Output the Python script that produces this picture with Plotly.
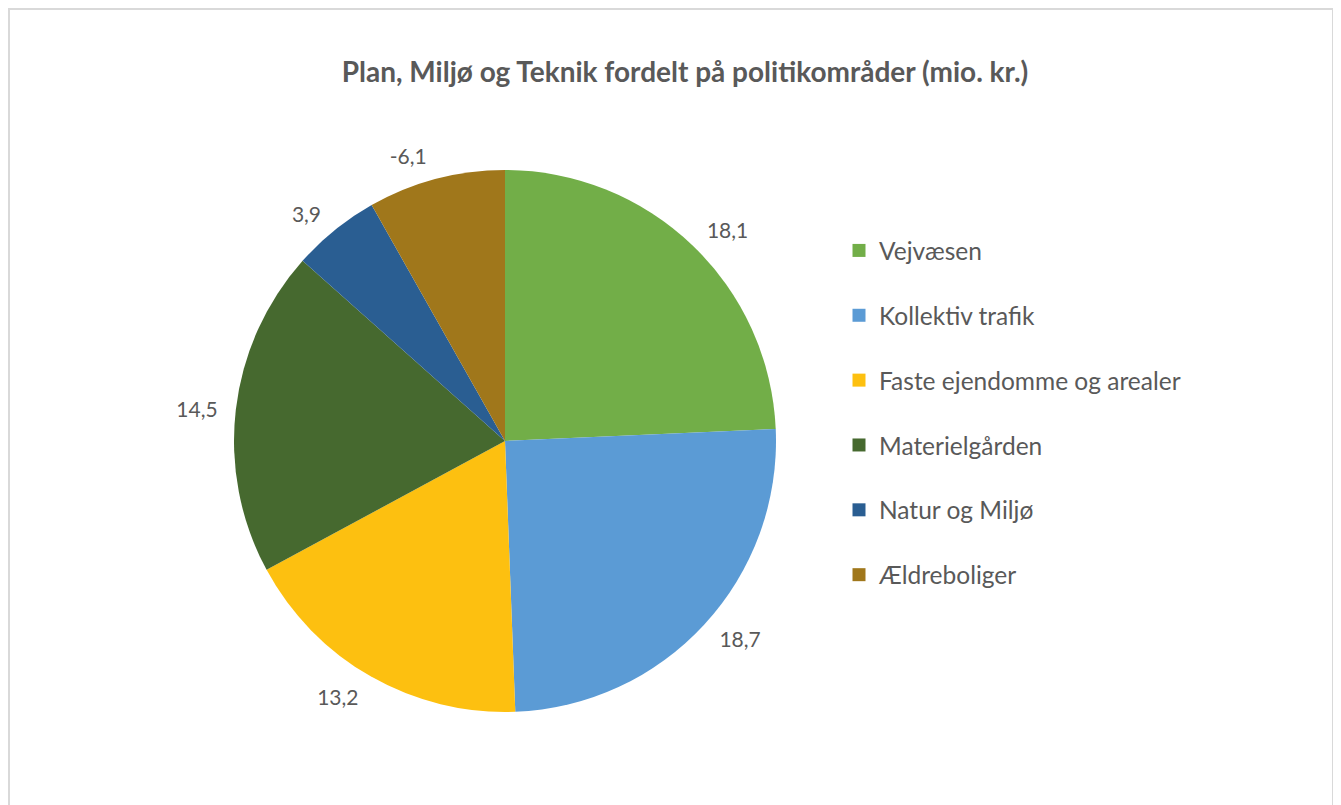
import plotly.graph_objects as go

# data
categories = ["Vejvæsen", "Kollektiv trafik", "Faste ejendomme og arealer",
              "Materielgården", "Natur og Miljø", "Ældreboliger"]
values = [18.1, 18.7, 13.2, 14.5, 3.9, -6.1]
colors = ["#72AE48", "#5B9BD5", "#FDC010", "#46692F", "#2A5E92", "#A0771B"]

title = "Plan, Miljø og Teknik fordelt på politikområder (mio. kr.)"
font_name = "Lato"
grey = "#595959"

# slice size from absolute value, label shows the signed value (danish decimal comma)
sizes = [abs(v) for v in values]
labels_txt = [f"{v:.1f}".replace(".", ",") for v in values]

# page body has an 8px margin, so the figure is a bit smaller than the window
W, H = 1333, 797
cx, cy, r = 497, 433, 271   # pie centre / radius in figure pixels


def dom(rad):
    return dict(x=[(cx - rad) / W, (cx + rad) / W],
                y=[1 - (cy + rad) / H, 1 - (cy - rad) / H])


fig = go.Figure()
# the coloured pie
fig.add_trace(go.Pie(
    labels=categories, values=sizes,
    textinfo="none", sort=False, direction="clockwise", rotation=0,
    marker=dict(colors=colors, line=dict(width=0)),
    showlegend=False, hoverinfo="skip",
    domain=dom(r),
))
# slightly larger transparent pie, only used to put the value labels further out
fig.add_trace(go.Pie(
    labels=categories, values=sizes, text=labels_txt,
    textinfo="text", textposition="outside",
    sort=False, direction="clockwise", rotation=0,
    marker=dict(colors=["rgba(0,0,0,0)"] * len(values), line=dict(width=0)),
    outsidetextfont=dict(family=font_name, size=21, color=grey),
    showlegend=False, hoverinfo="label+text",
    domain=dom(r + 12),
))

# legend entries (spaced like the original)
for name, col in zip(categories, colors):
    fig.add_trace(go.Scatter(
        x=[None], y=[None], mode="markers", name=name,
        marker=dict(symbol="square", size=13, color=col),
        legendgroup=name, showlegend=True,
    ))

fig.update_layout(
    width=W, height=H,
    margin=dict(l=0, r=0, t=0, b=0),
    paper_bgcolor="white",
    plot_bgcolor="white",
    title=dict(text="<b>" + title + "</b>", x=677 / W, xanchor="center",
               y=1 - 64 / H, yanchor="middle",
               font=dict(family=font_name, size=28, color=grey)),
    xaxis=dict(visible=False),
    yaxis=dict(visible=False),
    legend=dict(x=831 / W, xanchor="left", y=1 - 220 / H, yanchor="top",
                font=dict(family=font_name, size=24.5, color=grey),
                tracegroupgap=30, bgcolor="rgba(0,0,0,0)"),
    shapes=[dict(type="rect", xref="paper", yref="paper",
                 x0=1 / W, x1=1325 / W, y0=-0.05, y1=1 - 1 / H,
                 line=dict(color="#D9D9D9", width=2), layer="below")],
)

fig.write_html("out.html")
